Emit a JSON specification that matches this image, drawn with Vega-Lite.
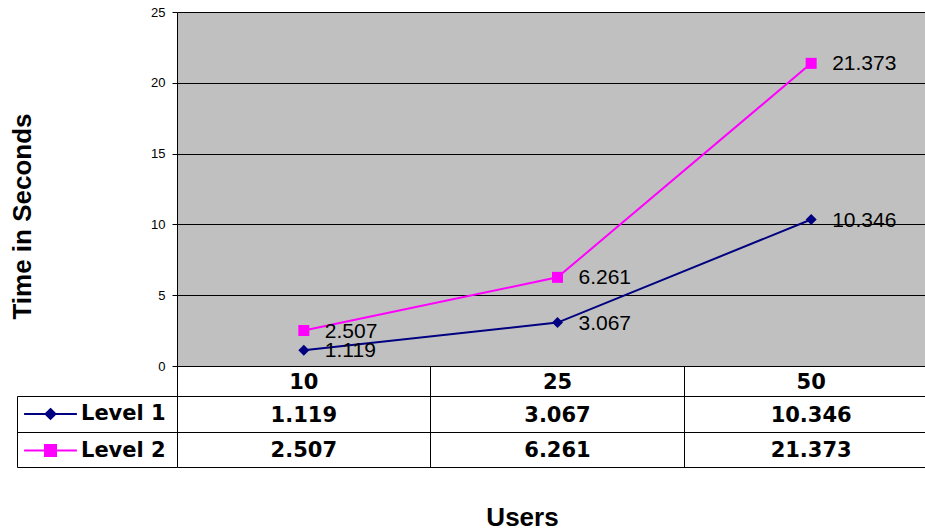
{
  "$schema": "https://vega.github.io/schema/vega-lite/v6.json",
  "padding": {"left": 8, "top": 6, "right": 0, "bottom": 0},
  "background": "white",
  "bounds": "flush",
  "spacing": 30,
  "datasets": {
    "perf": [
      {"users": "10", "level": "Level 1", "time": 1.119},
      {"users": "25", "level": "Level 1", "time": 3.067},
      {"users": "50", "level": "Level 1", "time": 10.346},
      {"users": "10", "level": "Level 2", "time": 2.507},
      {"users": "25", "level": "Level 2", "time": 6.261},
      {"users": "50", "level": "Level 2", "time": 21.373}
    ]
  },
  "data": {"name": "perf"},
  "resolve": {"legend": {"color": "independent"}},
  "config": {"view": {"stroke": null}, "font": "Liberation Sans"},
  "vconcat": [
    {
      "width": 748,
      "height": 354,
      "view": {"fill": "#C0C0C0", "stroke": null},
      "encoding": {
        "x": {
          "field": "users", "type": "nominal", "sort": null,
          "scale": {"type": "band", "domain": ["10", "25", "50"], "range": [0, 761], "paddingInner": 0, "paddingOuter": 0},
          "axis": {
            "orient": "bottom", "title": null, "domain": false, "ticks": true, "tickSize": 30,
            "tickColor": "#000", "tickWidth": 1, "bandPosition": 0,
            "labelPadding": -13.5, "labelBaseline": "middle", "labelAngle": 0,
            "labelFont": "DejaVu Sans", "labelFontWeight": "bold", "labelFontSize": 21, "labelColor": "#000",
            "grid": false, "labelBound": false, "labelOverlap": false
          }
        },
        "y": {
          "field": "time", "type": "quantitative",
          "scale": {"domain": [0, 25], "nice": false},
          "axis": {
            "values": [0, 5, 10, 15, 20, 25], "grid": true, "gridColor": "#000", "gridOpacity": 1, "gridWidth": 1,
            "domain": true, "domainColor": "#000", "domainWidth": 1, "ticks": true, "tickSize": 5, "tickColor": "#000",
            "labelFont": "Liberation Sans", "labelFontSize": 13, "labelColor": "#000", "labelPadding": 7,
            "title": "Time in Seconds", "titleFont": "Liberation Sans", "titleFontWeight": "bold", "titleFontSize": 26,
            "titleColor": "#000", "titleX": -147, "titleY": 204, "titleBaseline": "alphabetic", "titleAngle": -90
          }
        }
      },
      "layer": [
        {
          "mark": {"type": "line", "strokeWidth": 2},
          "encoding": {
            "color": {
              "field": "level", "type": "nominal",
              "scale": {"domain": ["Level 1", "Level 2"], "range": ["#000080", "#FF00FF"]},
              "legend": {
                "title": null, "orient": "none", "legendX": -137, "legendY": 391.5, "padding": 0,
                "symbolSize": 121, "symbolStrokeWidth": 2,
                "labelFont": "DejaVu Sans", "labelFontWeight": "bold", "labelFontSize": 21, "labelColor": "#000",
                "labelOffset": 20, "rowPadding": 14.5,
                "encode": {
                  "symbols": {
                    "update": {
                      "shape": {"signal": "datum.value === 'Level 1' ? 'M-4.8,0H4.8M0,-0.9L0.9,0L0,0.9L-0.9,0Z' : 'M-4.8,0H4.8M-1,-1H1V1H-1Z'"},
                      "fill": {"signal": "datum.value === 'Level 1' ? '#000080' : '#FF00FF'"},
                      "stroke": {"signal": "datum.value === 'Level 1' ? '#000080' : '#FF00FF'"},
                      "opacity": {"value": 1},
                      "fillOpacity": {"value": 1},
                      "strokeWidth": {"value": 2}
                    }
                  }
                }
              }
            }
          }
        },
        {
          "mark": {"type": "point", "filled": true, "size": 121, "opacity": 1},
          "encoding": {
            "color": {"field": "level", "type": "nominal"},
            "shape": {"field": "level", "type": "nominal", "scale": {"domain": ["Level 1", "Level 2"], "range": ["diamond", "square"]}, "legend": null}
          }
        },
        {
          "mark": {"type": "text", "align": "left", "baseline": "middle", "dx": 21, "dy": 1, "fontSize": 21, "font": "Liberation Sans", "color": "#000"},
          "encoding": {"text": {"field": "time", "type": "quantitative", "format": ".3f"}}
        }
      ]
    },
    {
      "width": 748,
      "height": 71,
      "view": {"stroke": null},
      "mark": {"type": "text", "font": "DejaVu Sans", "fontWeight": "bold", "fontSize": 21, "color": "#000", "baseline": "middle", "align": "center", "dy": 2},
      "encoding": {
        "x": {
          "field": "users", "type": "nominal", "sort": null,
          "scale": {"type": "band", "domain": ["10", "25", "50"], "range": [0, 761], "paddingInner": 0, "paddingOuter": 0},
          "axis": {
            "orient": "bottom", "domain": false, "ticks": false, "labels": false, "grid": true, "gridColor": "#000",
            "gridOpacity": 1, "bandPosition": 0, "title": "Users", "titleFont": "Liberation Sans", "titleFontWeight": "bold",
            "titleFontSize": 26, "titleColor": "#000", "titleX": 345, "titleY": 58, "titleBaseline": "alphabetic"
          }
        },
        "y": {
          "field": "level", "type": "nominal", "sort": null,
          "scale": {"type": "band", "domain": ["Level 1", "Level 2"], "paddingInner": 0, "paddingOuter": 0},
          "axis": {
            "orient": "left", "offset": 160, "tickBand": "extent", "tickSize": -160, "tickColor": "#000", "ticks": true,
            "domain": true, "domainColor": "#000", "labels": false, "title": null, "grid": true, "gridColor": "#000", "gridOpacity": 1
          }
        },
        "text": {"field": "time", "type": "quantitative", "format": ".3f"}
      }
    }
  ]
}
